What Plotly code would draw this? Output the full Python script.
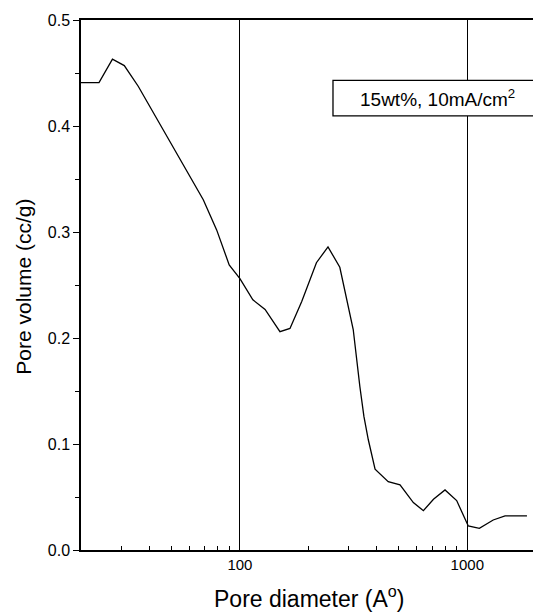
import math
import plotly.graph_objects as go

# Pore size distribution, 15wt%, 10mA/cm2
pore_diameter = [20, 24, 27.5, 31, 35.7, 40.9, 49, 57, 69, 79, 89.7, 100, 114, 129,
                 150, 166, 187, 217, 244, 275, 315, 337, 351, 367, 393, 449, 506,
                 579, 641, 710, 798, 898, 1010, 1130, 1300, 1466, 1830]
pore_volume = [0.441, 0.441, 0.463, 0.457, 0.4375, 0.4155, 0.387, 0.362, 0.3305,
               0.302, 0.269, 0.256, 0.236, 0.227, 0.206, 0.209, 0.2345, 0.271,
               0.286, 0.2667, 0.208, 0.154, 0.126, 0.104, 0.0762, 0.0645, 0.0614,
               0.0447, 0.0371, 0.0479, 0.0567, 0.0466, 0.0227, 0.0205, 0.0283,
               0.0321, 0.0321]

x_major = [100, 1000]
x_minor = [30, 40, 50, 60, 70, 80, 90, 200, 300, 400, 500, 600, 700, 800, 900]
y_ticks = [0.0, 0.1, 0.2, 0.3, 0.4, 0.5]
y_labels = ["0.0", "0.1", "0.2", "0.3", "0.4", "0.5"]

font = "Liberation Sans, Arial, sans-serif"

fig = go.Figure()
fig.add_trace(go.Scatter(x=pore_diameter, y=pore_volume, mode="lines",
                         line=dict(color="black", width=1.3), showlegend=False))

fig.update_layout(
    width=533, height=613,
    margin=dict(l=81, r=0, t=20, b=63),
    paper_bgcolor="white", plot_bgcolor="white",
    font=dict(family=font, size=15, color="black"),
    xaxis=dict(
        type="log", range=[math.log10(20), 3.289],
        showline=True, linecolor="black", linewidth=1.5, mirror=True,
        tickmode="array", tickvals=x_major, ticktext=["100", "1000"],
        ticks="inside", ticklen=6, tickcolor="black", tickwidth=1,
        showgrid=True, gridcolor="black", gridwidth=1,
        minor=dict(tickmode="array", tickvals=x_minor, ticks="inside",
                   ticklen=4, tickcolor="black", tickwidth=1, showgrid=False),
        tickfont=dict(size=15), zeroline=False,
    ),
    yaxis=dict(
        range=[0, 0.5],
        showline=True, linecolor="black", linewidth=1.5,
        tickmode="array", tickvals=y_ticks, ticktext=y_labels,
        ticks="outside", ticklen=6, tickcolor="black", tickwidth=1,
        minor=dict(dtick=0.05, ticks="outside", ticklen=4,
                   tickcolor="black", tickwidth=1, showgrid=False),
        showgrid=False, zeroline=False, tickfont=dict(size=16),
    ),
    shapes=[dict(type="rect", xref="paper", yref="paper",
                 x0=0.5575, x1=1.02, y0=0.819, y1=0.886,
                 line=dict(color="black", width=1.3), fillcolor="white")],
    annotations=[
        dict(text="15wt%, 10mA/cm<sup>2</sup>", xref="paper", yref="paper",
             x=0.788, y=0.8525, xanchor="center", yanchor="middle",
             showarrow=False, font=dict(size=19)),
        dict(text="Pore diameter (A<sup>o</sup>)", xref="paper", yref="paper",
             x=0.504, y=-0.089, xanchor="center", yanchor="middle",
             showarrow=False, font=dict(size=23)),
        dict(text="Pore volume (cc/g)", xref="paper", yref="paper",
             x=-0.128, y=0.497, xanchor="center", yanchor="middle",
             textangle=-90, showarrow=False, font=dict(size=21)),
    ],
)

fig.write_html("out.html")
